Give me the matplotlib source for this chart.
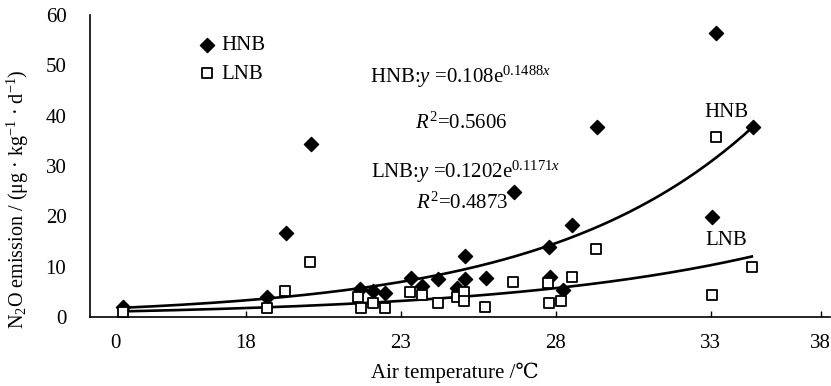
import numpy as np
import matplotlib
matplotlib.use('Agg')
import matplotlib.pyplot as plt

# axis-position of the first point is labelled "0" on the original chart
x_ticks = [13.79, 18, 23, 28, 33, 36.55]
x_tick_labels = ['0', '18', '23', '28', '33', '38']

# HNB points (air temperature, N2O emission)
hnb_t = [14.04, 18.69, 19.31, 20.10, 21.68, 22.12, 22.50, 23.32, 23.70, 24.21,
         24.83, 25.07, 25.07, 25.75, 26.67, 27.77, 27.83, 28.23, 28.52, 29.34,
         33.05, 33.16, 34.38]
hnb_v = [2.0, 4.0, 16.6, 34.3, 5.5, 5.2, 4.8, 7.7, 6.2, 7.6,
         5.7, 7.5, 12.1, 7.7, 24.9, 13.9, 7.9, 5.4, 18.3, 37.8,
         19.9, 56.5, 37.8]

# LNB points
lnb_t = [14.04, 18.69, 19.28, 20.09, 21.62, 21.71, 22.12, 22.49, 23.29, 23.68,
         24.19, 24.81, 25.05, 25.05, 25.72, 26.61, 27.75, 27.80, 28.18, 28.52,
         29.31, 33.03, 33.16, 34.33]
lnb_v = [0.9, 1.85, 5.2, 11.0, 4.0, 1.85, 2.85, 1.85, 5.0, 4.4,
         2.7, 3.9, 5.0, 3.2, 2.05, 7.0, 6.8, 2.85, 3.2, 7.9,
         13.5, 4.4, 35.8, 10.0]

# exponential trendlines y = a*exp(b*x), x = t + shift
hnb_fit = (0.108, 0.1488)
lnb_fit = (0.1202, 0.1171)
fit_shift = 5.0

plt.rcParams['font.family'] = ['Liberation Serif', 'DejaVu Serif', 'Noto Sans CJK SC']
plt.rcParams['mathtext.fontset'] = 'custom'
plt.rcParams['mathtext.rm'] = 'Liberation Serif'
plt.rcParams['mathtext.it'] = 'Liberation Serif:italic'

fig = plt.figure(figsize=(8.31, 3.86), dpi=100)
ax = fig.add_axes([90/831, 1-317/386, 740/831, 302/386])

ax.scatter(hnb_t, hnb_v, marker='D', s=52, color='black', zorder=3, label='HNB')
ax.scatter(lnb_t, lnb_v, marker='s', s=52, facecolor='white', edgecolor='black',
           linewidth=1.3, zorder=3, label='LNB')

tt = np.linspace(min(hnb_t), max(hnb_t), 200)
ax.plot(tt, hnb_fit[0]*np.exp(hnb_fit[1]*(tt+fit_shift)), color='black', lw=1.9, zorder=2)
tt = np.linspace(min(lnb_t), max(lnb_t), 200)
ax.plot(tt, lnb_fit[0]*np.exp(lnb_fit[1]*(tt+fit_shift)), color='black', lw=1.9, zorder=2)

ax.set_xlim(12.98, 36.85)
ax.set_ylim(0, 60)
ax.set_xticks(x_ticks)
ax.set_xticklabels(x_tick_labels)
ax.set_yticks([0, 10, 20, 30, 40, 50, 60])
ax.tick_params(axis='x', direction='in', length=4, width=1, pad=12, labelsize=15)
ax.tick_params(axis='y', length=0, pad=17, labelsize=15)
ax.xaxis.get_major_ticks()[0].tick1line.set_visible(False)

for s in ['top', 'right']:
    ax.spines[s].set_visible(False)
for s in ['left', 'bottom']:
    ax.spines[s].set_linewidth(1.2)

ax.set_xlabel('Air temperature /℃', fontsize=15)
ax.xaxis.set_label_coords((455-90)/740, -(363-317)/302)
ax.set_ylabel(r'N$_2$O emission / (μg · kg$^{-1}$ · d$^{-1}$)', fontsize=14.5)
ax.yaxis.set_label_coords(-(90-31)/740, (317-199)/302)

ax.legend(loc='upper left', bbox_to_anchor=(0.135, 0.96), frameon=False,
          fontsize=15, handlelength=0.8, handletextpad=0.3, labelspacing=0.45,
          borderaxespad=0)

ax.text(22.0, 47.7, r'HNB:$y$ =0.108e$^{0.1488x}$', fontsize=15, va='center')
ax.text(23.45, 38.6, r'$R^2$=0.5606', fontsize=15, va='center')
ax.text(22.03, 28.8, r'LNB:$y$ =0.1202e$^{0.1171x}$', fontsize=15, va='center')
ax.text(23.5, 22.7, r'$R^2$=0.4873', fontsize=15, va='center')
ax.text(33.5, 40.6, 'HNB', fontsize=15, ha='center', va='center')
ax.text(33.5, 15.1, 'LNB', fontsize=15, ha='center', va='center')

fig.savefig('out.png', dpi=100)
